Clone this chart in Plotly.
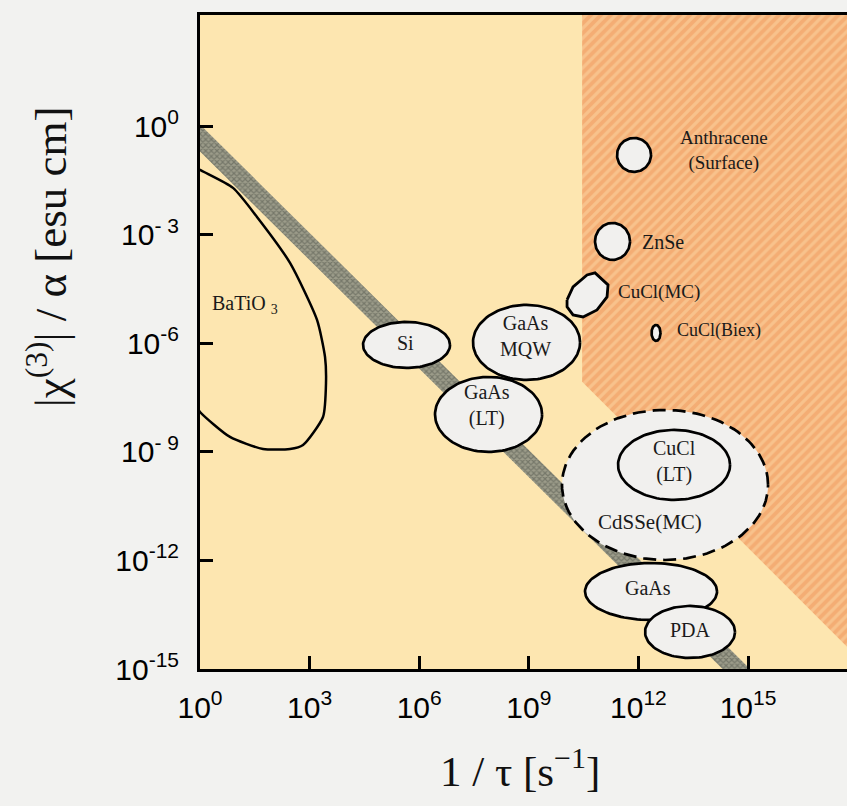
import numpy as np
import plotly.graph_objects as go

# ---------------- data (all in log10 units: exponents of 1/tau and |chi3|/alpha) ----
x_tick_exp = [0, 3, 6, 9, 12, 15]
x_tick_text = ["10<sup>0</sup>", "10<sup>3</sup>", "10<sup>6</sup>", "10<sup>9</sup>",
               "10<sup>12</sup>", "10<sup>15</sup>"]
y_tick_exp = [0, -3, -6, -9, -12, -15]
y_tick_text = ["10<sup>0</sup>", "10<sup>- 3</sup>", "10<sup>-6</sup>", "10<sup>- 9</sup>",
               "10<sup>-12</sup>", "10<sup>-15</sup>"]
x_range = [0, 17.71]
y_range = [-15, 3.08]

# hatched (orange) region boundary
region_x = [10.46, 10.46, 18.0, 18.0]
region_y = [3.3, -7.06, -14.68, 3.3]

# diagonal grey band: centre line y = band_c0 + band_slope * x, vertical half-thickness
band_x = [-0.4, 15.0]
band_c0 = -0.32
band_slope = -1.0
band_half = 0.375

# BaTiO3 curve
batio3_x = [-0.219, 0.0, 0.903, 1.560, 2.464, 3.203, 3.422, 3.449, 3.367, 2.820,
            2.464, 1.725, 0.821, 0.0, -0.219]
batio3_y = [-1.064, -1.203, -1.700, -2.502, -3.774, -5.350, -6.373, -7.092, -8.032,
            -8.806, -8.917, -8.917, -8.585, -7.894, -7.562]

# CuCl(MC) irregular blob
cuclmc_x = [10.047, 10.211, 10.594, 10.813, 11.169, 11.142, 10.868, 10.485, 10.211, 10.047]
cuclmc_y = [-4.797, -4.437, -4.106, -4.050, -4.382, -4.714, -5.073, -5.267, -5.212, -4.990]

# ellipses: name, centre x, centre y, radius x, radius y (decades), dashed
ell_names = ["Si", "GaAs MQW", "GaAs (LT)", "Anthracene", "ZnSe", "CuCl(Biex)",
             "CdSSe(MC)", "CuCl (LT)", "GaAs", "PDA"]
ell_cx = [5.653, 8.938, 7.898, 11.881, 11.292, 12.483, 12.729, 12.976, 12.346, 13.414]
ell_cy = [-6.041, -5.972, -7.963, -0.788, -3.179, -5.709, -9.912, -9.359, -12.856, -13.976]
ell_rx = [1.191, 1.465, 1.465, 0.465, 0.479, 0.123, 2.820, 1.533, 1.807, 1.232]
ell_ry = [0.636, 1.037, 1.037, 0.470, 0.511, 0.221, 2.074, 0.968, 0.788, 0.719]
ell_dashed = [False, False, False, False, False, False, True, False, False, False]

# text labels
lab_text = ["Si", "GaAs<br>MQW", "GaAs<br>(LT)", "Anthracene<br>(Surface)", "ZnSe",
            "CuCl(MC)", "CuCl(Biex)", "CuCl<br>(LT)", "CdSSe(MC)", "GaAs", "PDA",
            "BaTiO <sub>3</sub>"]
lab_x = [5.612, 8.897, 7.857, 14.344, 12.675, 12.565, 14.208, 12.976, 12.319, 12.264,
         13.414, 1.232]
lab_y = [-5.986, -5.792, -7.727, -0.677, -3.193, -4.576, -5.654, -9.275, -10.934,
         -12.759, -13.920, -4.935]
lab_size = [20, 20, 20, 19, 20, 19, 18, 20, 21, 20, 20, 20]

# ---------------- figure ----------------
fig = go.Figure()
SERIF = "Liberation Serif, Times New Roman, serif"
SANS = "Liberation Sans, Arial, sans-serif"

# hatched region
fig.add_trace(go.Scatter(
    x=[10 ** v for v in region_x], y=[10 ** v for v in region_y],
    fill="toself", mode="lines", line=dict(width=0),
    fillcolor="#f6b680",
    fillpattern=dict(shape="/", bgcolor="#f4ad74", fgcolor="#fcd8a4", size=7, solidity=0.45),
    hoverinfo="skip", showlegend=False))

# grey band
bx0, bx1 = band_x
up0, up1 = band_c0 + band_slope * bx0 + band_half, band_c0 + band_slope * bx1 + band_half
lo0, lo1 = band_c0 + band_slope * bx0 - band_half, band_c0 + band_slope * bx1 - band_half
band_px = [bx0, bx1, bx1, bx0, bx0]
band_py = [up0, up1, lo1, lo0, up0]
fig.add_trace(go.Scatter(
    x=[10 ** v for v in band_px], y=[10 ** v for v in band_py],
    fill="toself", mode="lines", line=dict(width=0),
    fillcolor="#8a8a7a",
    fillpattern=dict(shape="x", bgcolor="#9c9c8a", fgcolor="#50534a", size=4, solidity=0.5),
    hoverinfo="skip", showlegend=False))

# BaTiO3 curve
fig.add_trace(go.Scatter(
    x=[10 ** v for v in batio3_x], y=[10 ** v for v in batio3_y],
    mode="lines", line=dict(color="black", width=2.5, shape="spline", smoothing=0.6),
    hoverinfo="skip", showlegend=False))

# ellipses
t = np.linspace(0, 2 * np.pi, 121)
ELL_FILL = "#f1f0ee"
for i in range(len(ell_names)):
    ex = ell_cx[i] + ell_rx[i] * np.cos(t)
    ey = ell_cy[i] + ell_ry[i] * np.sin(t)
    fig.add_trace(go.Scatter(
        x=10 ** ex, y=10 ** ey, fill="toself", fillcolor=ELL_FILL, mode="lines",
        line=dict(color="black", width=2.7,
                  dash="13px,7px" if ell_dashed[i] else "solid"),
        hoverinfo="skip", showlegend=False, name=ell_names[i]))

fig.add_trace(go.Scatter(
    x=[10 ** v for v in cuclmc_x + cuclmc_x[:1]], y=[10 ** v for v in cuclmc_y + cuclmc_y[:1]],
    fill="toself", fillcolor=ELL_FILL, mode="lines",
    line=dict(color="black", width=2.8),
    hoverinfo="skip", showlegend=False, name="CuCl(MC)"))

annotations = []
for txt, lx, ly, sz in zip(lab_text, lab_x, lab_y, lab_size):
    annotations.append(dict(x=lx, y=ly, xref="x", yref="y", text=txt, showarrow=False,
                            font=dict(family=SERIF, size=sz, color="#1a1a1a"),
                            xanchor="center", yanchor="middle"))

# axis titles
annotations.append(dict(x=-0.2365, y=0.631, xref="paper", yref="paper",
                        text="|χ<sup>(3)</sup>| / α [esu cm]", textangle=-90,
                        showarrow=False, font=dict(family=SERIF, size=45, color="#111"),
                        xanchor="center", yanchor="middle"))
annotations.append(dict(x=0.4946, y=-0.151, xref="paper", yref="paper",
                        text="1 / τ [s<sup>−1</sup>]",
                        showarrow=False, font=dict(family=SERIF, size=43, color="#111"),
                        xanchor="center", yanchor="middle"))

fig.update_layout(
    width=847, height=806,
    margin=dict(l=200, r=0, t=15, b=137),
    paper_bgcolor="#f2f2f0",
    plot_bgcolor="#fde6b0",
    showlegend=False,
    annotations=annotations,
    xaxis=dict(type="log", range=x_range, showgrid=False, zeroline=False,
               showline=True, linewidth=3, linecolor="black", mirror=True,
               ticks="inside", ticklen=13, tickwidth=2.5, tickcolor="black",
               tickvals=[10 ** v for v in x_tick_exp], ticktext=x_tick_text,
               tickfont=dict(family=SANS, size=30, color="black"),
               ticklabelstandoff=10),
    yaxis=dict(type="log", range=y_range, showgrid=False, zeroline=False,
               showline=True, linewidth=3, linecolor="black", mirror=False,
               ticks="inside", ticklen=13, tickwidth=2.5, tickcolor="black",
               tickvals=[10 ** v for v in y_tick_exp], ticktext=y_tick_text,
               tickfont=dict(family=SANS, size=30, color="black"),
               ticklabelstandoff=12),
)

fig.write_html("out.html")
